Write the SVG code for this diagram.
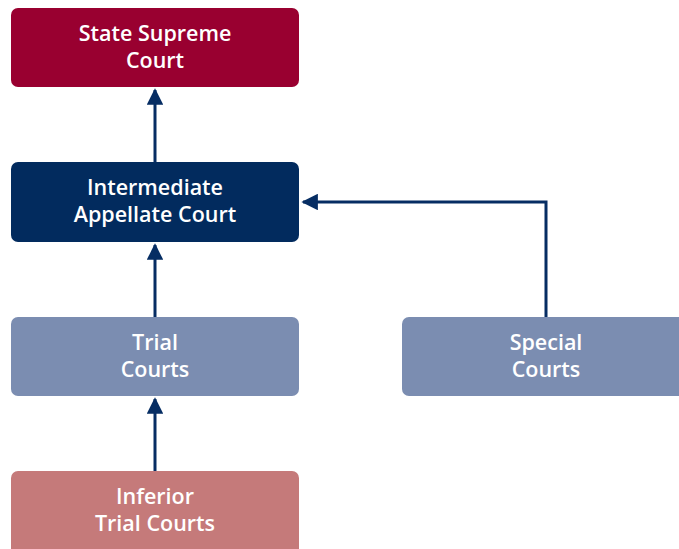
<svg xmlns="http://www.w3.org/2000/svg" width="679" height="549" viewBox="0 0 679 549">
  <style>
    .box { stroke: none; }
    .lbl { font-family: "Open Sans", "Liberation Sans", sans-serif; font-size: 21.5px; font-weight: 600; fill: #ffffff; text-anchor: middle; }
    .wire { fill: none; stroke: #062d63; stroke-width: 3; }
  </style>
  <defs>
    <marker id="head" viewBox="0 0 10 10" refX="9" refY="5" markerWidth="5.5" markerHeight="5.5" markerUnits="strokeWidth" orient="auto">
      <path d="M0,0 L10,5 L0,10 z" fill="#062d63"/>
    </marker>
  </defs>
  <rect width="679" height="549" fill="#ffffff"/>

  <g id="connectors">
    <line class="wire" x1="155" y1="162" x2="155" y2="90" marker-end="url(#head)"/>
    <line class="wire" x1="155" y1="317" x2="155" y2="245" marker-end="url(#head)"/>
    <line class="wire" x1="155" y1="471" x2="155" y2="399" marker-end="url(#head)"/>
    <polyline class="wire" points="546,317 546,202 303,202" marker-end="url(#head)"/>
  </g>

  <g id="supreme">
    <rect class="box" x="11" y="8" width="288" height="79" rx="7" fill="#990030"/>
    <text class="lbl" x="155" y="41">State Supreme</text>
    <text class="lbl" x="155" y="68">Court</text>
  </g>

  <g id="appellate">
    <rect class="box" x="11" y="162" width="288" height="80" rx="7" fill="#022b5e"/>
    <text class="lbl" x="155" y="195">Intermediate</text>
    <text class="lbl" x="155" y="222">Appellate Court</text>
  </g>

  <g id="trial">
    <rect class="box" x="11" y="317" width="288" height="79" rx="7" fill="#7b8db1"/>
    <text class="lbl" x="155" y="350">Trial</text>
    <text class="lbl" x="155" y="377">Courts</text>
  </g>

  <g id="special">
    <rect class="box" x="402" y="317" width="288" height="79" rx="7" fill="#7b8db1"/>
    <text class="lbl" x="546" y="350">Special</text>
    <text class="lbl" x="546" y="377">Courts</text>
  </g>

  <g id="inferior">
    <rect class="box" x="11" y="471" width="288" height="88" rx="7" fill="#c57a7a"/>
    <text class="lbl" x="155" y="504">Inferior</text>
    <text class="lbl" x="155" y="531">Trial Courts</text>
  </g>
</svg>
